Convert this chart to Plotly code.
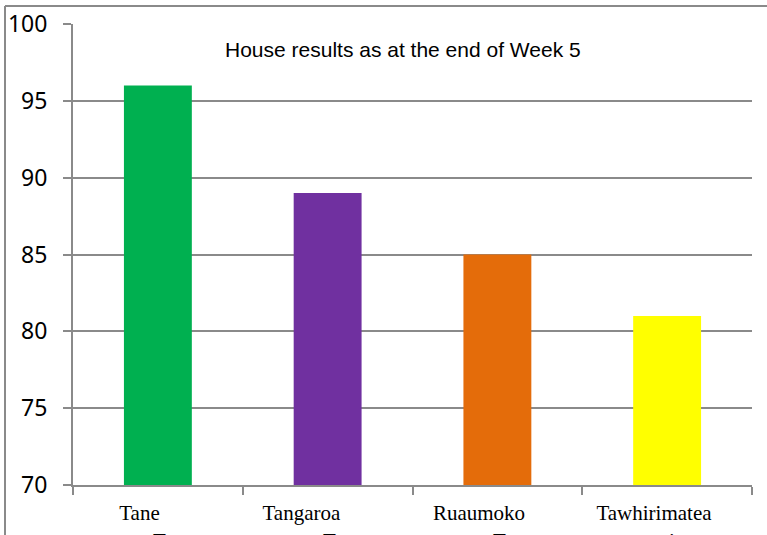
import plotly.graph_objects as go

categories = ["Tane", "Tangaroa", "Ruaumoko", "Tawhirimatea"]
scores = [96, 89, 85, 81]
bar_colors = ["#00B050", "#7030A0", "#E46C0A", "#FFFF00"]
title_text = "House results as at the end of Week 5"
y_ticks = [70, 75, 80, 85, 90, 95, 100]
cut_text = ["T", "T", "T", "i"]
label_pad = [7, 10, 7, 5]  # trailing non-breaking spaces in the original labels

W, H = 767, 535
L, R, T, B = 73, 15, 24, 50
pw, ph = W - L - R, H - T - B

def px_x(p):
    return (p - L) / pw

def px_y(p):
    return (H - B - p) / ph

grey = "#8a8a8a"

fig = go.Figure()
fig.add_trace(go.Bar(
    x=categories, y=scores, marker_color=bar_colors,
    marker_line_width=0, width=0.4, showlegend=False,
))

fig.update_layout(
    width=W, height=H,
    margin=dict(l=L, r=R, t=T, b=B, pad=0),
    plot_bgcolor="white", paper_bgcolor="white",
    xaxis=dict(
        type="category", showgrid=False, showline=True, linecolor=grey, linewidth=2,
        ticks="outside", ticklen=8, tickcolor=grey, tickwidth=2, tickson="boundaries",
        tickvals=categories,
        ticktext=[c + "\u00a0" * n for c, n in zip(categories, label_pad)],
        tickfont=dict(family="Liberation Serif", size=21, color="black"),
        ticklabelstandoff=8, automargin=False,
    ),
    yaxis=dict(
        range=[70, 100], tickvals=y_ticks, showgrid=True, gridcolor=grey, gridwidth=2,
        showline=True, linecolor=grey, linewidth=2, zeroline=False,
        ticks="outside", ticklen=8, tickcolor=grey, tickwidth=2,
        tickfont=dict(family="Noto Sans", size=23, color="black"),
        ticklabelstandoff=11, automargin=False,
    ),
    bargap=0.6,
)

fig.add_annotation(
    text=title_text, xref="paper", yref="paper",
    x=px_x(403), y=px_y(49), xanchor="center", yanchor="middle",
    showarrow=False, font=dict(family="Liberation Sans", size=21, color="black"),
)

for i, t in enumerate(cut_text):
    fig.add_annotation(
        text=t, xref="x", yref="paper", x=i + (0.03 if i == 3 else 0.01), y=px_y(527),
        xanchor="center", yanchor="top", showarrow=False,
        font=dict(family="Liberation Serif", size=21, color="black"),
    )

# outer frame (partially visible)
fig.add_shape(type="line", xref="paper", yref="paper",
              x0=px_x(5), x1=px_x(767), y0=px_y(6), y1=px_y(6),
              line=dict(color=grey, width=2))
fig.add_shape(type="line", xref="paper", yref="paper",
              x0=px_x(5), x1=px_x(5), y0=px_y(535), y1=px_y(6),
              line=dict(color=grey, width=2))

fig.write_html("out.html", config={"displayModeBar": False},
               post_script="document.body.style.margin='0';")
